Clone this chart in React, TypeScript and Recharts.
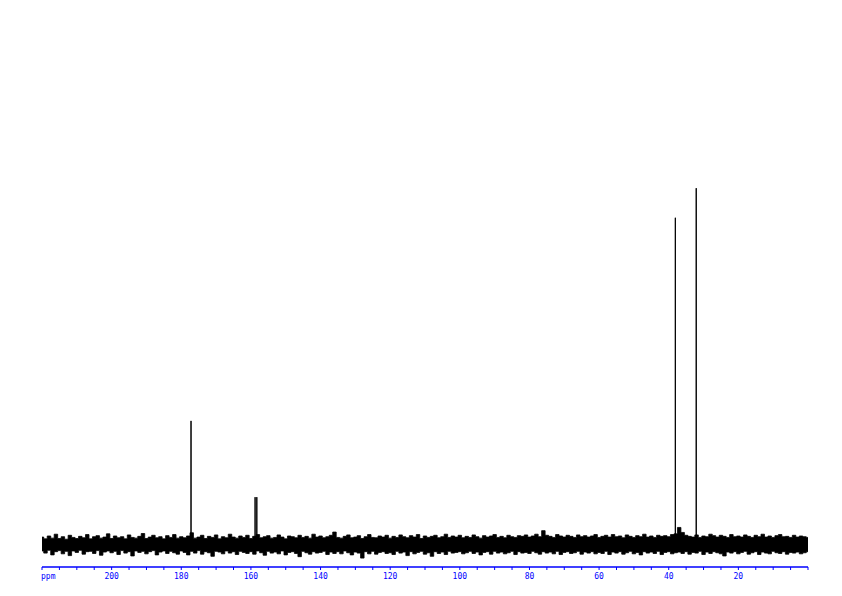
import { ComposedChart, Area, Line, XAxis, YAxis } from "recharts";

// noise envelope, one value per ppm from 220 down to 0 (intensity units, tallest peak = 100)
const NOISE_HI = [
  2.1, 1.6, 2.4, 1.8, 2.9, 1.7, 2.2, 1.5, 2.6, 2.0, 1.7, 2.3, 1.9, 2.8, 1.6, 2.2, 2.5, 1.8, 2.1, 3.0,
  1.7, 2.4, 1.9, 2.2, 1.6, 2.7, 2.0, 1.8, 2.3, 3.1, 1.7, 2.1, 2.6, 1.9, 2.2, 1.6, 2.5, 2.0, 2.8, 1.8,
  2.2, 1.9, 2.4, 3.3, 1.8, 2.1, 2.6, 1.7, 2.3, 2.0, 2.7, 1.6, 2.2, 1.9, 2.9, 2.1, 1.8, 2.4, 2.0, 2.6,
  1.7, 2.3, 2.8, 1.9, 2.2, 2.5, 1.8, 2.0, 2.7, 2.1, 1.6, 2.4, 2.2, 1.9, 2.6, 2.0, 2.3, 1.8, 2.9, 2.1,
  2.4, 1.9, 2.2, 2.6, 3.5, 2.0, 1.8, 2.3, 2.7, 1.9, 2.1, 2.5, 1.7, 2.2, 2.8, 2.0, 1.9, 2.4, 2.1, 2.6,
  1.8, 2.3, 2.0, 2.7, 2.2, 1.9, 2.5, 2.1, 2.8, 1.7, 2.4, 2.0, 2.3, 2.6, 1.9, 2.2, 2.9, 2.0, 2.4, 2.1,
  2.6, 1.9, 2.3, 2.0, 2.7, 2.2, 1.8, 2.5, 2.1, 2.4, 2.8, 2.0, 2.3, 1.9, 2.6, 2.2, 2.0, 2.5, 2.3, 2.7,
  2.1, 2.4, 2.9, 2.2, 3.9, 2.6, 2.3, 2.0, 2.8, 2.4, 2.1, 2.6, 2.3, 2.0, 2.7, 2.2, 2.5, 2.1, 2.4, 2.8,
  2.0, 2.3, 2.6, 2.1, 2.8, 2.2, 2.4, 1.9, 2.7, 2.3, 2.0, 2.5, 2.2, 2.9, 2.1, 2.4, 2.0, 2.6, 2.3, 2.5,
  2.2, 2.8, 3.0, 4.8, 3.4, 2.6, 2.3, 2.1, 2.7, 2.0, 2.4, 2.2, 2.9, 2.5, 2.1, 2.6, 2.3, 2.0, 2.8, 2.2,
  2.4, 2.1, 2.7, 2.3, 2.0, 2.6, 2.2, 2.9, 2.1, 2.4, 2.0, 2.5, 2.8, 2.2, 2.3, 2.0, 2.6, 2.1, 2.4, 2.2,
  2.0,
];

const NOISE_LO = [
  -1.8, -2.4, -1.6, -2.9, -2.0, -1.7, -2.6, -1.9, -3.1, -1.8, -2.2, -1.6, -2.7, -2.0, -1.9, -2.5, -1.7, -3.0, -2.1, -1.8,
  -2.3, -1.9, -2.8, -1.7, -2.4, -2.0, -3.2, -1.8, -2.2, -1.9, -2.6, -2.0, -1.7, -2.9, -2.1, -1.8, -2.5, -1.9, -2.3, -2.7,
  -1.8, -2.2, -2.9, -1.9, -2.4, -1.7, -2.7, -2.0, -2.3, -3.3, -1.9, -2.1, -2.6, -1.8, -2.4, -2.0, -2.8, -1.9, -2.2, -2.5,
  -2.0, -2.7, -1.8, -2.3, -3.0, -1.9, -2.4, -2.1, -2.6, -1.8, -2.9, -2.2, -2.0, -2.5, -3.4, -1.9, -2.3, -2.7, -2.0, -2.4,
  -2.2, -1.9, -2.8, -2.1, -2.5, -2.0, -2.6, -1.8, -2.3, -2.9, -2.1, -2.4, -3.8, -2.0, -2.6, -1.9, -2.7, -2.2, -2.0, -2.5,
  -2.3, -2.8, -1.9, -2.4, -2.1, -3.1, -2.0, -2.6, -2.2, -1.9, -2.7, -2.3, -3.3, -2.0, -2.5, -2.1, -2.8, -1.9, -2.4, -2.2,
  -2.0, -2.6, -2.3, -1.9, -2.5, -2.1, -2.9, -2.2, -2.0, -2.7, -1.9, -2.4, -2.1, -2.6, -2.3, -1.9, -2.8, -2.0, -2.4, -2.2,
  -2.5, -1.9, -2.3, -2.7, -2.0, -2.4, -2.1, -2.6, -1.9, -2.8, -2.2, -2.0, -2.5, -2.3, -1.9, -2.7, -2.1, -2.4, -2.0, -2.6,
  -2.2, -2.5, -1.9, -2.8, -2.1, -2.4, -2.0, -2.7, -2.3, -1.9, -2.6, -2.2, -2.9, -2.0, -2.4, -2.1, -2.5, -1.9, -2.8, -2.2,
  -2.0, -2.6, -2.3, -2.1, -2.5, -2.0, -2.7, -2.2, -2.4, -1.9, -2.8, -2.1, -2.5, -2.0, -2.3, -2.6, -3.2, -2.1, -2.4, -2.0,
  -2.6, -2.2, -1.9, -2.7, -2.3, -2.0, -2.8, -2.1, -2.4, -2.6, -1.9, -2.3, -2.5, -2.0, -2.7, -2.2, -2.4, -2.1, -2.6, -2.3,
  -2.0,
];

// peaks (ppm, relative height)
const PEAK_PPM = [177.2, 158.8, 158.3, 38.1, 32.1];
const PEAK_HEIGHT = [34.7, 13.3, 13.3, 91.7, 100];

const TICKS = [
  220, 215, 210, 205, 200, 195, 190, 185, 180, 175, 170, 165, 160, 155, 150, 145, 140, 135, 130, 125,
  120, 115, 110, 105, 100, 95, 90, 85, 80, 75, 70, 65, 60, 55, 50, 45, 40, 35, 30, 25, 20, 15, 10, 5, 0,
];
const TICK_LABELS = [200, 180, 160, 140, 120, 100, 80, 60, 40, 20];

const noiseData = NOISE_HI.map((hi, i) => ({
  ppm: 220 - i,
  band: [NOISE_LO[i], hi],
}));

const peakData: { ppm: number; v: number }[] = [{ ppm: 220, v: 0 }];
PEAK_PPM.forEach((p, i) => {
  peakData.push({ ppm: p, v: 0 });
  peakData.push({ ppm: p, v: PEAK_HEIGHT[i] });
  peakData.push({ ppm: p, v: 0 });
});
peakData.push({ ppm: 0, v: 0 });

const PpmTick = (props: any) => {
  const { x, y, payload } = props;
  const v = payload.value;
  let label = "";
  if (v === 220) label = "ppm";
  else if (TICK_LABELS.includes(v)) label = String(v);
  return (
    <text
      x={v === 220 ? x - 1 : x}
      y={y + 7}
      textAnchor={v === 220 ? "start" : "middle"}
      fill="#0000ff"
      fontSize={8}
      fontFamily="DejaVu Sans Mono"
    >
      {label}
    </text>
  );
};

export default function App() {
  return (
    <div style={{ position: "absolute", left: 0, top: 0, width: 842, height: 596, background: "#fff" }}>
      <ComposedChart width={842} height={596} margin={{ top: 10, right: 34, bottom: 9, left: 42 }}>
        <XAxis
          type="number"
          dataKey="ppm"
          domain={[0, 220]}
          reversed
          ticks={TICKS}
          interval={0}
          height={20}
          tickSize={3}
          axisLine={{ stroke: "#0000ff", strokeWidth: 1.3 }}
          tickLine={{ stroke: "#0000ff" }}
          tick={<PpmTick />}
          allowDataOverflow
        />
        <YAxis hide type="number" domain={[-6.3, 150]} allowDataOverflow />
        <Area
          data={noiseData}
          dataKey="band"
          type="step"
          stroke="#000"
          strokeWidth={0.8}
          fill="#000"
          fillOpacity={1}
          isAnimationActive={false}
          dot={false}
          activeDot={false}
        />
        <Line
          data={peakData}
          dataKey="v"
          type="linear"
          stroke="#000"
          strokeWidth={1}
          dot={false}
          activeDot={false}
          isAnimationActive={false}
        />
      </ComposedChart>
    </div>
  );
}
